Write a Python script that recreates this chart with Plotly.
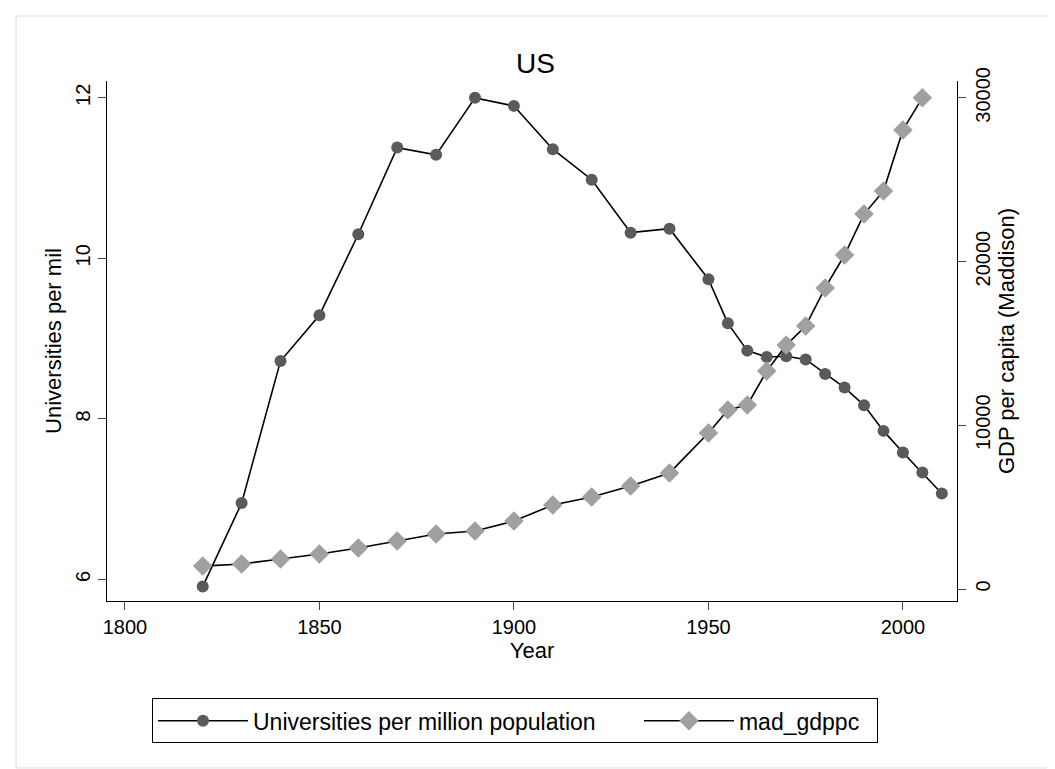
import plotly.graph_objects as go

years_u = [1820,1830,1840,1850,1860,1870,1880,1890,1900,1910,1920,1930,1940,1950,1955,1960,1965,1970,1975,1980,1985,1990,1995,2000,2005,2010]
univ = [5.91,6.95,8.72,9.29,10.3,11.38,11.29,12.0,11.9,11.36,10.98,10.32,10.37,9.74,9.19,8.85,8.77,8.78,8.74,8.56,8.39,8.17,7.85,7.58,7.33,7.07]
years_g = [1820,1830,1840,1850,1860,1870,1880,1890,1900,1910,1920,1930,1940,1950,1955,1960,1965,1970,1975,1980,1985,1990,1995,2000,2005]
gdp = [1400,1530,1830,2140,2500,2930,3360,3540,4150,5130,5620,6290,7090,9530,10930,11240,13320,14900,16060,18390,20400,22900,24310,28040,30000]

fig = go.Figure()
fig.add_trace(go.Scatter(x=years_u, y=univ, mode="lines+markers", name="Universities per million population      ",
    line=dict(color="black", width=1.6), marker=dict(symbol="circle", size=12, color="#5a5a5a")))
fig.add_trace(go.Scatter(x=years_g, y=gdp, mode="lines+markers", name="mad_gdppc  ", yaxis="y2",
    line=dict(color="black", width=1.6), marker=dict(symbol="diamond", size=15, color="#a0a0a0")))

font = dict(family="Liberation Sans, Arial", size=22, color="black")
tf = dict(family="Liberation Sans, Arial", size=20, color="black")
fig.update_layout(
    width=1055, height=769, paper_bgcolor="white", plot_bgcolor="white",
    margin=dict(l=99, r=106, t=73, b=176), font=font,
    title=dict(text="US", x=0.5, xanchor="center", y=0.928, yanchor="middle", font=dict(size=28)),
    xaxis=dict(range=[1795.4, 2013.9], tickvals=[1800,1850,1900,1950,2000], showgrid=False, zeroline=False,
               showline=True, linecolor="black", ticks="outside", ticklen=8, tickfont=tf, automargin=False,
               title=dict(text="Year", standoff=0, font=font)),
    yaxis=dict(range=[5.73, 12.21], tickvals=[6,8,10,12], tickangle=-90, showgrid=False, zeroline=False,
               showline=True, linecolor="black", ticks="outside", ticklen=8, tickfont=tf, automargin=False,
               title=dict(text="Universities per mil", standoff=4, font=font)),
    yaxis2=dict(range=[-733, 31030], overlaying="y", side="right", tickvals=[0,10000,20000,30000], tickformat="d",
               tickangle=-90, showgrid=False, zeroline=False, showline=True, linecolor="black", ticks="outside",
               ticklen=8, tickfont=tf, automargin=False,
               title=dict(text="GDP per capita (Maddison)", standoff=4, font=font)),
    legend=dict(orientation="h", x=0.48, xanchor="center", y=-0.187, yanchor="top",
                bordercolor="black", borderwidth=1, font=dict(size=23), itemwidth=90),
    shapes=[dict(type="rect", xref="paper", yref="paper", x0=-0.107, x1=1.113, y0=-0.321, y1=1.125,
                 line=dict(color="#dddddd", width=1))],
)
fig.write_html("out.html")
